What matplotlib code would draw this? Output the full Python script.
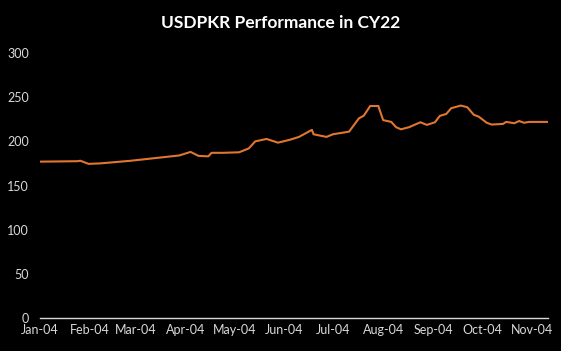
import numpy as np
import pandas as pd
import matplotlib
matplotlib.use("Agg")
import matplotlib.pyplot as plt
import matplotlib.dates as mdates

# USDPKR rate
dates = ["2022-01-04", "2022-01-27", "2022-01-29", "2022-02-03", "2022-02-10",
         "2022-03-01", "2022-03-21", "2022-03-31", "2022-04-07", "2022-04-12",
         "2022-04-18", "2022-04-20", "2022-04-27", "2022-05-07", "2022-05-13",
         "2022-05-17", "2022-05-24", "2022-05-31", "2022-06-07", "2022-06-13",
         "2022-06-21", "2022-06-22", "2022-06-30", "2022-07-04", "2022-07-14",
         "2022-07-15", "2022-07-20", "2022-07-23", "2022-07-27", "2022-08-01",
         "2022-08-04", "2022-08-09", "2022-08-12", "2022-08-15", "2022-08-20",
         "2022-08-27", "2022-08-31", "2022-09-05", "2022-09-08", "2022-09-12",
         "2022-09-15", "2022-09-21", "2022-09-25", "2022-09-29", "2022-10-02",
         "2022-10-07", "2022-10-10", "2022-10-17", "2022-10-19", "2022-10-24",
         "2022-10-27", "2022-10-30", "2022-11-02", "2022-11-14"]
rate = [177, 177.5, 178, 174.5, 175,
        178, 182, 184, 188, 183.5,
        183, 187, 187, 187.6, 192,
        200, 202.7, 198.5, 201.6, 205,
        213, 208, 205, 208, 211,
        213.6, 226, 229, 240, 240,
        224, 222, 216, 213.6, 216,
        221.6, 218.6, 221.6, 228.8, 231,
        237.5, 240.5, 238.6, 230, 228,
        221, 219, 219.7, 222, 220.5,
        223, 221, 222, 222]

x = pd.to_datetime(dates)
# Excel date axis: one tick per month, starting from the 4th
ticks = pd.date_range("2022-01-01", periods=11, freq="MS") + pd.Timedelta(days=3)

plt.rcParams['font.family'] = ['Lato', 'DejaVu Sans']

fig = plt.figure(figsize=(5.61, 3.51), dpi=100, facecolor="black")
ax = fig.add_axes([0.0713, 0.094, 0.906, 0.755], facecolor="black")

ax.plot(x, rate, color="#E0762F", lw=1.5)

ax.set_ylim(0, 300)
ax.set_yticks(np.arange(0, 301, 50))
ax.set_xlim(pd.Timestamp("2022-01-04"), pd.Timestamp("2022-11-14"))
ax.set_xticks(ticks)
ax.xaxis.set_major_formatter(mdates.DateFormatter("%b-%d"))

for s in ["top", "right", "left"]:
    ax.spines[s].set_visible(False)
ax.spines["bottom"].set_color("#d9d9d9")
ax.spines["bottom"].set_linewidth(1)
ax.tick_params(length=0, colors="#d9d9d9", labelsize=9)
ax.tick_params(axis="y", pad=8)
ax.tick_params(axis="x", pad=4)

fig.text(0.5, 0.934, "USDPKR Performance in CY22", color="white",
         fontsize=12.5, fontweight="bold", ha="center", va="center")

fig.savefig("out.png", dpi=100, facecolor="black")
